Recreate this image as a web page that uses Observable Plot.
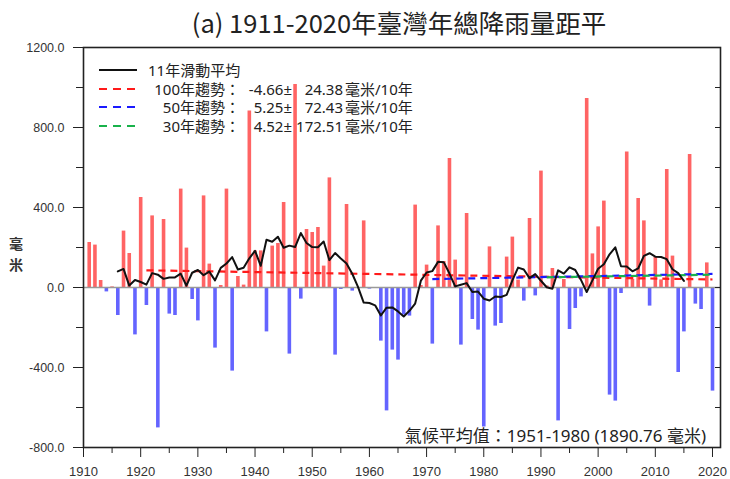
<!DOCTYPE html>
<html>
<head>
<meta charset="utf-8">
<script src="https://cdn.jsdelivr.net/npm/d3@7"></script>
<script src="https://cdn.jsdelivr.net/npm/@observablehq/plot@0.6"></script>
<style>
  body { margin: 0; background: #fff; }
  #wrap { position: relative; width: 730px; height: 479px; overflow: hidden; background: #fff; }
  #title { position: absolute; left: 68px; top: 5px; width: 662px; text-align: center;
           font-family: "Noto Sans CJK TC", "Noto Sans", sans-serif; font-size: 25.5px; color: #222; line-height: 34px; }
  #chart { position: absolute; left: 0; top: 40px; }
  .ylab { position: absolute; left: 7px; width: 18px; height: 16px; text-align: center;
          font-family: "Noto Sans CJK TC", sans-serif; font-size: 14px; line-height: 16px; color: #333; font-weight: bold; }
  #legend { position: absolute; left: 98px; top: 61px; font-family: "Noto Sans", "Noto Sans CJK TC", sans-serif;
            font-size: 15px; color: #222; border-collapse: collapse; table-layout: fixed; }
  #legend td { padding: 0; line-height: 18.5px; height: 18.5px; white-space: nowrap; }
  #legend td.s { width: 40px; padding-right: 10px; }
  #legend td.l { width: 92px; text-align: right; }
  #legend td.v1 { width: 50px; text-align: right; padding-left: 2px; }
  #legend td.v2 { width: 48px; text-align: right; padding-left: 3px; }
  #legend td.u { width: 80px; padding-left: 2px; }
  #note { position: absolute; right: 24px; top: 422px; font-family: "Noto Sans", "Noto Sans CJK TC", sans-serif;
          font-size: 17px; color: #222; white-space: nowrap; }
</style>
</head>
<body>
<div id="wrap">
  <div id="title">(a) 1911-2020年臺灣年總降雨量距平</div>
  <div id="chart"></div>
  <div class="ylab" style="top:235px">毫</div>
  <div class="ylab" style="top:256px">米</div>
  <table id="legend"></table>
  <div id="note"></div>
</div>
<script>
// ---- data (anomaly, mm, 1911..2020) ----
const years = d3.range(1911, 2021);
const anomalies = [
  225, 212, 35, -22, 3, -140, 282, 170, -237, 450,       // 1911-1920
  -90, 358, -702, 340, -133, -140, 492, 197, -60, -167,  // 1921-1930
  458, 117, -303, 10, 492, -418, 55, 12, 883, 183,       // 1931-1940
  183, -222, 207, 220, 425, -333, 1015, -58, 290, 275,   // 1941-1950
  300, 107, 548, -338, -10, 415, -18, -5, 333, -8,       // 1951-1960
  0, -268, -617, -313, -363, -138, -143, 412, 10, 112,   // 1961-1970
  -283, 308, 130, 645, 137, -288, 370, -160, -213, -697, // 1971-1980
  203, -193, -180, 152, 252, 37, -68, 345, -42, 582,     // 1981-1990
  8, 95, -667, 40, -210, -105, -47, 945, 168, 303,       // 1991-2000
  432, -538, -568, -30, 678, 40, 445, 333, -93, 152,     // 2001-2010
  38, 590, 157, -425, -222, 665, -83, -110, 123, -518    // 2011-2020
];

// trend lines (start/end year and value)
const trendNames = ["100年趨勢", "50年趨勢", "30年趨勢"];
const trendStartYear = [1921, 1971, 1991];
const trendEndYear = [2020, 2020, 2020];
const trendStartValue = [86, 42, 51];
const trendEndValue = [40, 68, 64];
const trendColors = ["#ff1a1a", "#1a1aff", "#19b24b"];
const trendRates = ["-4.66±", "5.25±", "4.52±"];
const trendErrors = ["24.38", "72.43", "172.51"];

const yMajorTicks = [-800, -400, 0, 400, 800, 1200];
const yMinorTicks = [-600, -200, 200, 600, 1000];
const xMajorTicks = [1910, 1920, 1930, 1940, 1950, 1960, 1970, 1980, 1990, 2000, 2010, 2020];
const xMinorTicks = [1915, 1925, 1935, 1945, 1955, 1965, 1975, 1985, 1995, 2005, 2015];

const data = years.map((year, i) => ({year, value: anomalies[i]}));
const trends = trendNames.map((name, i) => ({
  name, x1: trendStartYear[i], x2: trendEndYear[i],
  y1: trendStartValue[i], y2: trendEndValue[i], color: trendColors[i]
}));

const chart = Plot.plot({
  width: 730,
  height: 439,
  marginTop: 7,
  marginBottom: 32,
  marginLeft: 83,
  marginRight: 10,
  x: {domain: [1910, 2021.4]},
  y: {domain: [-800, 1200]},
  style: {fontFamily: "'Liberation Sans', Arial, sans-serif", fontSize: "12.5px", color: "#333", background: "white"},
  marks: [
    Plot.ruleX(data.filter(d => d.value >= 0), {x: "year", y1: 0, y2: "value", stroke: "#ff6464", strokeWidth: 3.6}),
    Plot.ruleX(data.filter(d => d.value < 0), {x: "year", y1: 0, y2: "value", stroke: "#6464ff", strokeWidth: 3.6}),
    Plot.ruleY([0], {stroke: "#999", strokeWidth: 1.5}),
    Plot.link(trends, {x1: "x1", y1: "y1", x2: "x2", y2: "y2", stroke: "color", strokeWidth: 2.2, strokeDasharray: "7,5"}),
    Plot.lineY(data, Plot.windowY({k: 11, anchor: "middle", strict: true}, {x: "year", y: "value", stroke: "#111", strokeWidth: 2})),
    Plot.frame({stroke: "#222", strokeWidth: 1.6}),
    Plot.axisY({ticks: yMajorTicks, tickSize: 10, tickPadding: 9, tickFormat: d => d.toFixed(1), label: null, stroke: "#222"}),
    Plot.axisY({ticks: yMinorTicks, tickSize: 7, tickFormat: () => "", label: null, stroke: "#222"}),
    Plot.axisY({anchor: "right", ticks: yMajorTicks.concat(yMinorTicks), tickSize: -6, tickFormat: () => "", label: null, stroke: "#222"}),
    Plot.axisX({ticks: xMajorTicks, tickSize: 10, tickPadding: 9, tickFormat: d => String(d), label: null, stroke: "#222", fontSize: 13}),
    Plot.axisX({ticks: xMinorTicks, tickSize: 6, tickFormat: () => "", label: null, stroke: "#222"})
  ]
});
document.getElementById("chart").appendChild(chart);

// legend
const lg = document.getElementById("legend");
const sample = (color, dash) =>
  `<svg width="40" height="10" style="display:block"><line x1="1" y1="5" x2="39" y2="5" stroke="${color}" stroke-width="2.2" ${dash ? 'stroke-dasharray="8,6"' : ''}/></svg>`;
let html = `<tr><td class="s">${sample("#111", false)}</td><td colspan="4">11年滑動平均</td></tr>`;
trendNames.forEach((n, i) => {
  html += `<tr><td class="s">${sample(trendColors[i], true)}</td><td class="l">${n}：</td>` +
          `<td class="v1">${trendRates[i]}</td><td class="v2">${trendErrors[i]}</td><td class="u">毫米/10年</td></tr>`;
});
lg.innerHTML = html;

document.getElementById("note").textContent = "氣候平均值：1951-1980 (1890.76 毫米)";
</script>
</body>
</html>
